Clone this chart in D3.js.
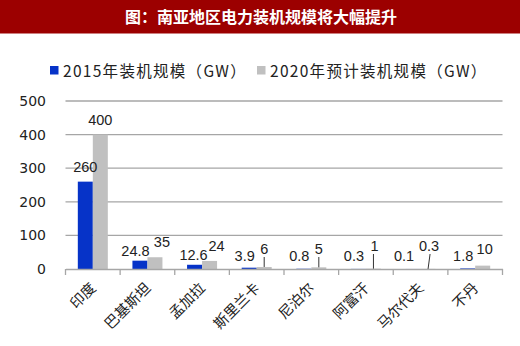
<!DOCTYPE html>
<html><head><meta charset="utf-8">
<script src="https://cdn.jsdelivr.net/npm/d3@7"></script>
<style>body{margin:0;background:#fff}svg{display:block}</style>
</head><body>
<svg id="c" width="520" height="346"></svg>
<script>
const title = "图：南亚地区电力装机规模将大幅提升";
const categories = ["印度","巴基斯坦","孟加拉","斯里兰卡","尼泊尔","阿富汗","马尔代夫","不丹"];
const seriesNames = ["2015年装机规模（GW）","2020年预计装机规模（GW）"];
const values2015 = [260, 24.8, 12.6, 3.9, 0.8, 0.3, 0.1, 1.8];
const values2020 = [400, 35, 24, 6, 5, 1, 0.3, 10];
const labels2015 = ["260","24.8","12.6","3.9","0.8","0.3","0.1","1.8"];
const labels2020 = ["400","35","24","6","5","1","0.3","10"];
const yTicks = [0,100,200,300,400,500];
const colors = ["#0633c8","#c0c0c0"];

const svg = d3.select("#c");
svg.append("rect").attr("x",0).attr("y",0).attr("width",520).attr("height",33.5).attr("fill","#9c0000");
svg.append("text").attr("x",261).attr("y",22.5).attr("text-anchor","middle")
  .attr("fill","#fff").attr("font-family","Noto Sans CJK SC").attr("font-weight","bold")
  .attr("font-size",16).text(title);

// legend
const leg = [{x:50,tx:63},{x:257,tx:270}];
leg.forEach((l,i)=>{
  svg.append("rect").attr("x",l.x).attr("y",66).attr("width",8.5).attr("height",8.5).attr("fill",colors[i]);
  svg.append("text").attr("x",l.tx).attr("y",76.5).attr("font-family","Noto Sans CJK SC")
    .attr("font-size",15.5).attr("letter-spacing",1.3).attr("fill","#222").text(seriesNames[i]);
});

const x0 = 65.5, x1 = 502.5;
const x = d3.scaleBand().domain(categories).range([x0,x1]).padding(0);
const y = d3.scaleLinear().domain([0,500]).range([269,101]);
const bw = 15;

// gridlines
svg.append("g").selectAll("line").data(yTicks.filter(d=>d>0)).join("line")
  .attr("x1",x0).attr("x2",x1).attr("y1",d=>y(d)).attr("y2",d=>y(d))
  .attr("stroke","#a6a6a6").attr("stroke-width",1.3);

// y labels
svg.append("g").selectAll("text").data(yTicks).join("text")
  .attr("x",46).attr("y",d=>y(d)+5).attr("text-anchor","end")
  .attr("font-family","DejaVu Sans").attr("font-size",14).attr("fill","#222")
  .text(d=>d);

// bars
const cx = c => x(c) + x.bandwidth()/2;
svg.append("g").selectAll("rect").data(categories).join("rect")
  .attr("x",c=>cx(c)-bw).attr("width",bw)
  .attr("y",(c,i)=>y(values2015[i])).attr("height",(c,i)=>y(0)-y(values2015[i]))
  .attr("fill",colors[0]);
svg.append("g").selectAll("rect").data(categories).join("rect")
  .attr("x",c=>cx(c)).attr("width",bw)
  .attr("y",(c,i)=>y(values2020[i])).attr("height",(c,i)=>y(0)-y(values2020[i]))
  .attr("fill",colors[1]);

// x axis
const axis = svg.append("g").attr("transform","translate(0,269)")
  .call(d3.axisBottom(x).tickSizeInner(0).tickSizeOuter(0).tickFormat(""));
axis.select(".domain").attr("stroke","#a6a6a6").attr("stroke-width",1.3);
axis.selectAll(".tick").remove();
const bounds = categories.map(c=>x(c)).concat([x1]);
svg.append("g").selectAll("line").data(bounds).join("line")
  .attr("x1",d=>d).attr("x2",d=>d).attr("y1",269).attr("y2",275)
  .attr("stroke","#a6a6a6").attr("stroke-width",1.3);

// x labels
svg.append("g").selectAll("text").data(categories).join("text")
  .attr("text-anchor","end").attr("font-family","Noto Sans CJK SC").attr("font-size",14.5)
  .attr("fill","#222")
  .attr("transform",c=>`translate(${cx(c)+4},${289}) rotate(-45)`)
  .text(c=>c);

// data labels
const lf = "Liberation Sans";
const lab1 = svg.append("g");
categories.forEach((c,i)=>{
  const by = y(values2015[i]);
  const v = values2015[i];
  const shift = v >= 100 ? 0 : (v < 0.2 ? -9 : (v > 10 && v < 20 ? -1 : -4.5));
  const off = v >= 100 ? 10 : 5;
  lab1.append("text").attr("x",cx(c)-bw/2+shift).attr("y",Math.min(by-off,261))
    .attr("text-anchor","middle").attr("font-family",lf).attr("font-size",14.5).attr("fill","#222")
    .text(labels2015[i]);
});
const lab2 = svg.append("g");
categories.forEach((c,i)=>{
  const by = y(values2020[i]);
  const gx = cx(c)+bw/2;
  const ly = Math.min(by-10, values2020[i] >= 5 ? 254 : 251);
  const shift = (values2020[i] >= 20 && values2020[i] < 100) ? 7 : (values2020[i] < 5 ? 1 : (values2020[i] >= 10 && values2020[i] < 20 ? 2 : 0));
  lab2.append("text").attr("x",gx+shift).attr("y",ly)
    .attr("text-anchor","middle").attr("font-family",lf).attr("font-size",14.5).attr("fill","#222")
    .text(labels2020[i]);
  if (by - ly > 12) {
    const slant = values2020[i] < 1 || values2020[i] >= 10 ? 2 : 0;
    lab2.append("line").attr("x1",gx+slant).attr("x2",gx).attr("y1",ly+3).attr("y2",by)
      .attr("stroke","#333").attr("stroke-width",1);
  }
});
</script>
</body></html>
